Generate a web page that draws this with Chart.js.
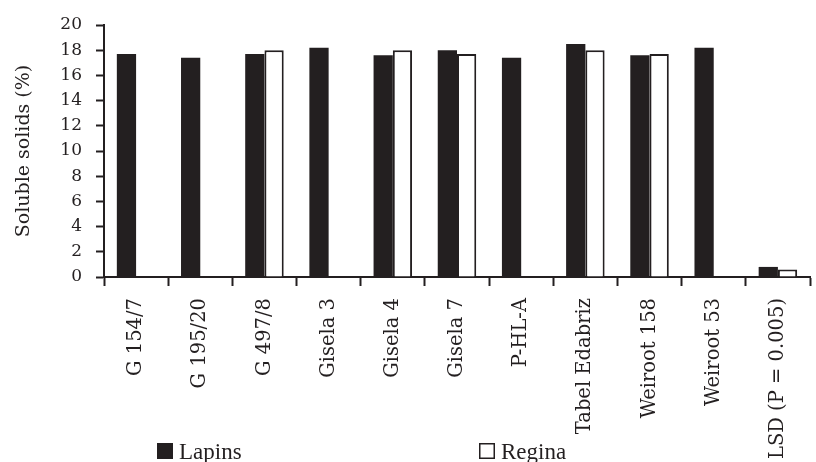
<!DOCTYPE html>
<html>
<head>
<meta charset="utf-8">
<title>Soluble solids</title>
<script src="https://cdn.jsdelivr.net/npm/chart.js@4"></script>
<style>
    html, body {
        margin: 0;
        padding: 0;
        background: #ffffff;
    }
    #wrap {
        width: 816px;
        height: 462px;
    }
</style>
</head>
<body>
<div id="wrap">
    <canvas id="solidsChart" width="816" height="462"></canvas>
</div>
<script>

/* =========================
   DATA
========================= */

const categories = [
    "G 154/7",
    "G 195/20",
    "G 497/8",
    "Gisela 3",
    "Gisela 4",
    "Gisela 7",
    "P-HL-A",
    "Tabel Edabriz",
    "Weiroot 158",
    "Weiroot 53",
    "LSD (P = 0.005)"
];

const lapins = [17.7, 17.4, 17.7, 18.2, 17.6, 18.0, 17.4, 18.5, 17.6, 18.2, 0.8];

const regina = [null, null, 18.0, null, 18.0, 17.7, null, 18.0, 17.7, null, 0.6];

const yTicks = [0, 2, 4, 6, 8, 10, 12, 14, 16, 18, 20];

const ink = "#231f20";

/* =========================
   LEGEND (drawn beside the long labels)
========================= */

const bottomLegend = {

    id: "bottomLegend",

    afterDraw(chart) {

        const ctx = chart.ctx;

        const spots = [157, 479];

        ctx.save();

        ctx.font = "23px 'Liberation Serif'";
        ctx.textBaseline = "alphabetic";
        ctx.textAlign = "left";

        chart.data.datasets.forEach((ds, i) => {

            const x = spots[i];

            ctx.fillStyle = ds.backgroundColor;
            ctx.fillRect(x, 443, 16, 16);

            ctx.strokeStyle = ink;
            ctx.lineWidth = 1.5;
            ctx.strokeRect(x + 0.75, 443.75, 14.5, 14.5);

            ctx.fillStyle = ink;
            ctx.fillText(ds.label, x + 22, 459);

        });

        ctx.restore();

    }

};

/* =========================
   CHART
========================= */

new Chart(document.getElementById("solidsChart"), {

    type: "bar",

    data: {

        labels: categories,

        datasets: [

            {
                label: "Lapins",
                data: lapins,
                backgroundColor: ink,
                borderWidth: 0,
                categoryPercentage: 0.6,
                barPercentage: 1.0
            },

            {
                label: "Regina",
                data: regina,
                backgroundColor: "#ffffff",
                borderColor: ink,
                borderWidth: 2,
                categoryPercentage: 0.6,
                barPercentage: 1.0
            }

        ]

    },

    options: {

        responsive: false,

        animation: false,

        devicePixelRatio: 1,

        layout: {
            padding: { top: 25, right: 6, left: 0, bottom: 0 }
        },

        plugins: {
            legend: { display: false },
            tooltip: { enabled: false }
        },

        scales: {

            x: {

                afterFit(scale) {
                    scale.height = 185;
                },

                border: {
                    display: true,
                    color: ink,
                    width: 2
                },

                grid: {
                    drawOnChartArea: false,
                    drawTicks: true,
                    tickLength: 9,
                    tickWidth: 2,
                    tickColor: ink,
                    offset: true
                },

                ticks: {
                    autoSkip: false,
                    minRotation: 90,
                    maxRotation: 90,
                    padding: 12,
                    color: ink,
                    font: { family: "'DejaVu Serif'", size: 19.5 }
                }

            },

            y: {

                min: 0,

                max: 20,

                afterFit(scale) {
                    scale.width = 104;
                },

                afterBuildTicks(scale) {
                    scale.ticks = yTicks.map(v => ({ value: v }));
                },

                border: {
                    display: true,
                    color: ink,
                    width: 2
                },

                grid: {
                    drawOnChartArea: false,
                    drawTicks: true,
                    tickLength: 8,
                    tickWidth: 2,
                    tickColor: ink
                },

                ticks: {
                    padding: 14,
                    color: ink,
                    font: { family: "'DejaVu Serif'", size: 17 }
                },

                title: {
                    display: true,
                    text: "Soluble solids (%)",
                    color: ink,
                    padding: { top: 13, bottom: 0 },
                    font: { family: "'DejaVu Serif'", size: 19 }
                }

            }

        }

    },

    plugins: [bottomLegend]

});

</script>
</body>
</html>
